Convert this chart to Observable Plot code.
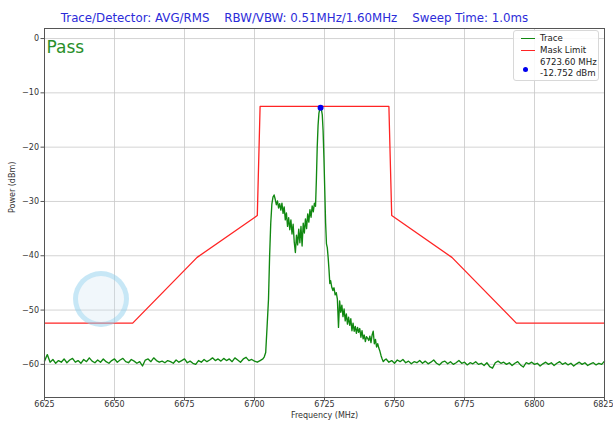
<!DOCTYPE html>
<html>
<head>
<meta charset="utf-8">
<script src="https://cdn.jsdelivr.net/npm/d3@7"></script>
<script src="https://cdn.jsdelivr.net/npm/@observablehq/plot@0.6"></script>
<style>
  html, body { margin: 0; padding: 0; background: #fff; }
  #wrap { position: relative; width: 613px; height: 421px; font-family: "DejaVu Sans", sans-serif; }
  #legend { position: absolute; left: 513px; top: 30px; width: 86px; height: 51px; box-sizing: border-box;
            border: 1px solid #d8d8d8; border-radius: 3px; background: rgba(255,255,255,0.85); font-size: 8.6px; color: #222; }
  #legend .row { position: absolute; left: 0; white-space: nowrap; }
  #legend .sw { position: absolute; left: 7px; width: 14px; height: 0; border-top: 1.5px solid; }
  #legend .lbl { position: absolute; left: 26px; }
  #wm { position: absolute; left: 73px; top: 271px; width: 46px; height: 46px; border-radius: 50%;
        border: 5px solid rgba(120,200,235,0.35); background: rgba(200,225,240,0.25); }
</style>
</head>
<body>
<div id="wrap"></div>
<script>
// ---- data ----
const titleText = "Trace/Detector: AVG/RMS    RBW/VBW: 0.51MHz/1.60MHz    Sweep Time: 1.0ms";
const statusText = "Pass";
const xTicks = [6625, 6650, 6675, 6700, 6725, 6750, 6775, 6800, 6825];
const yTicks = [0, -10, -20, -30, -40, -50, -60];
const xLabel = "Frequency (MHz)";
const yLabel = "Power (dBm)";

// mask limit
const maskFreq = [6625, 6656.5, 6679.5, 6701, 6702, 6748, 6749, 6770.5, 6793.5, 6825];
const maskPower = [-52.4, -52.4, -40.3, -32.6, -12.5, -12.5, -32.6, -40.3, -52.4, -52.4];

// trace: left noise floor, 6625..6703 MHz at 1 MHz steps
const floorLeftStart = 6625;
const floorLeft = [-59.4, -58.2, -59.6, -59.1, -59.8, -59.3, -59.6, -59.0, -59.7, -59.2,
  -58.9, -59.6, -59.3, -59.8, -59.1, -59.5, -58.8, -59.4, -59.7, -59.2,
  -59.6, -59.0, -59.5, -59.8, -59.3, -59.0, -59.6, -59.2, -58.9, -59.5,
  -59.7, -59.1, -59.4, -59.8, -59.5, -60.3, -59.2, -59.0, -59.5, -58.8,
  -59.3, -59.6, -59.4, -59.7, -59.3, -59.5, -59.8, -59.2, -59.6, -59.3,
  -59.0, -59.7, -59.4, -59.8, -60.0, -59.3, -59.6, -59.1, -59.5, -59.2,
  -58.8, -59.3, -59.0, -59.4, -58.9, -59.3, -59.0, -59.5, -58.8, -59.2,
  -59.6, -59.0, -58.7, -59.3, -59.1, -59.4, -59.6, -59.3, -59.0];

// signal region
const sigFreq = [6703.5, 6704.0, 6704.5, 6705.0, 6705.4, 6705.8, 6706.2, 6706.6, 6707.0, 6707.4,
  6707.8, 6708.2, 6708.6, 6709.0, 6709.4, 6709.8, 6710.2, 6710.6, 6711.0, 6711.4,
  6711.8, 6712.2, 6712.6, 6713.0, 6713.4, 6713.8, 6714.2, 6714.6, 6715.0, 6715.4,
  6715.8, 6716.2, 6716.6, 6717.0, 6717.4, 6717.8, 6718.2, 6718.6, 6719.0, 6719.4,
  6719.8, 6720.2, 6720.6, 6721.0, 6721.4, 6721.8, 6722.1, 6722.4, 6722.7, 6723.0,
  6723.3, 6723.6, 6723.9, 6724.2, 6724.5, 6724.8, 6725.1, 6725.4, 6725.7, 6726.0,
  6726.3, 6726.6, 6726.9, 6727.2, 6727.6, 6728.0, 6728.4, 6728.8, 6729.2, 6729.6,
  6730.0, 6730.4, 6730.8, 6731.2, 6731.6, 6732.0, 6732.4, 6732.8, 6733.2, 6733.6,
  6734.0, 6734.4, 6734.8, 6735.2, 6735.6, 6736.0, 6736.4, 6736.8, 6737.2, 6737.6,
  6738.0, 6738.4, 6738.8, 6739.2, 6739.6, 6740.0, 6740.4, 6740.8, 6741.2, 6741.6,
  6742.0, 6742.4, 6742.8, 6743.2, 6743.6, 6744.0, 6744.4, 6744.8, 6745.2, 6745.6,
  6746.0, 6746.5];
const sigPower = [-58.6, -57.8, -53.0, -48.0, -40.0, -34.0, -30.5, -29.2, -28.8, -29.6,
  -30.6, -29.9, -31.2, -30.4, -31.6, -30.3, -32.2, -31.0, -33.4, -32.1,
  -34.6, -33.0, -35.2, -33.4, -36.0, -34.2, -37.5, -39.4, -36.2, -38.0,
  -35.1, -37.6, -34.6, -38.2, -34.0, -35.8, -33.2, -35.0, -32.3, -33.8,
  -31.5, -32.9, -30.8, -31.9, -30.3, -30.9, -26.0, -20.0, -16.0, -13.8,
  -13.0, -12.752, -13.1, -14.0, -17.0, -22.0, -28.0, -34.0, -37.8, -38.5,
  -40.3, -42.5, -45.1, -44.6, -45.8, -46.4, -45.9, -47.2, -46.8, -48.0,
  -53.2, -48.3, -50.4, -49.1, -51.2, -49.8, -52.0, -50.7, -52.6, -51.3,
  -52.8, -51.6, -53.8, -52.4, -53.9, -53.0, -54.3, -53.2, -54.1, -53.4,
  -55.0, -53.8, -55.3, -54.6, -55.8, -54.9, -55.2, -55.6, -54.8, -56.0,
  -54.6, -53.9, -56.2, -55.4, -56.8, -56.2, -57.0, -57.6, -58.4, -59.0,
  -59.5, -59.2];

// right noise floor, 6747..6825 MHz at 1 MHz steps
const floorRightStart = 6747;
const floorRight = [-59.0, -59.6, -59.3, -59.8, -59.2, -59.5, -59.1, -59.7, -59.4, -59.9,
  -59.5, -59.7, -59.3, -59.8, -59.4, -59.9, -59.6, -59.2, -59.8, -60.1,
  -59.6, -59.4, -59.9, -59.5, -60.0, -59.7, -59.3, -59.8, -59.6, -60.1,
  -59.7, -59.9, -59.5, -60.0, -59.8, -60.2, -59.7, -60.4, -60.7, -59.7,
  -59.4, -59.8, -59.6, -60.0, -59.7, -60.2, -59.8, -59.5, -60.1, -60.5,
  -59.7, -59.9, -59.6, -60.0, -59.8, -60.3, -59.9, -59.6, -60.0, -59.7,
  -60.2, -59.8, -59.5, -60.0, -59.7, -60.1, -59.8, -60.3, -59.9, -59.6,
  -60.0, -59.7, -60.2, -59.9, -59.7, -60.1, -59.8, -60.0, -59.4];

const peakFreq = 6723.60;
const peakPower = -12.752;
const legendItems = ["Trace", "Mask Limit"];
const peakLabel = ["6723.60 MHz", "-12.752 dBm"];

// ---- build tables ----
const trace = [
  ...floorLeft.map((p, i) => ({f: floorLeftStart + i, p})),
  ...sigFreq.map((f, i) => ({f, p: sigPower[i]})),
  ...floorRight.map((p, i) => ({f: floorRightStart + i, p}))
];
const mask = maskFreq.map((f, i) => ({f, p: maskPower[i]}));
const minus = d => d < 0 ? "\u2212" + (-d) : String(d);
const xInner = xTicks.slice(0, -1);
const xLast = xTicks.slice(-1);

const W = 613, H = 421;
const chart = Plot.plot({
  width: W, height: H,
  marginLeft: 44, marginRight: 9, marginTop: 28, marginBottom: 24,
  style: {fontFamily: "DejaVu Sans, sans-serif", fontSize: "8px", color: "#333", background: "white"},
  x: {domain: [6625, 6825], label: null},
  y: {domain: [-66.1, 1.85], label: null},
  marks: [
    Plot.gridX(xTicks, {stroke: "#c8c8c8", strokeOpacity: 1, strokeWidth: 0.8}),
    Plot.gridY(yTicks, {stroke: "#c8c8c8", strokeOpacity: 1, strokeWidth: 0.8}),
    Plot.line(mask, {x: "f", y: "p", stroke: "#ff2424", strokeWidth: 1.3}),
    Plot.line(trace, {x: "f", y: "p", stroke: "#118811", strokeWidth: 1.35}),
    Plot.dot([{f: peakFreq, p: peakPower}], {x: "f", y: "p", r: 3, fill: "#0000ee", stroke: "none"}),
    Plot.frame({stroke: "#555", strokeWidth: 1}),
    Plot.axisX(xTicks, {tickSize: 3.5, text: null, stroke: "#555", label: null}),
    Plot.text(xInner, {x: d => d, frameAnchor: "bottom", dy: 9, text: d => String(d), fontSize: 8, fill: "#333"}),
    Plot.text(xLast, {x: d => d, frameAnchor: "bottom", dy: 9, dx: 9, textAnchor: "end", text: d => String(d), fontSize: 8, fill: "#333"}),
    Plot.axisY(yTicks, {tickSize: 3.5, tickPadding: 2, tickFormat: minus, fill: "#333", stroke: "#555", label: null}),
    Plot.text([xLabel], {frameAnchor: "bottom", dy: 20, text: d => d, fontSize: 8, fill: "#333"}),
    Plot.text([yLabel], {frameAnchor: "left", dx: -32, rotate: -90, text: d => d, fontSize: 8, fill: "#333"}),
    Plot.text([statusText], {frameAnchor: "top-left", dx: 2, dy: 12, text: d => d, fontSize: 17, fill: "#2a8f2a", textAnchor: "start"}),
    Plot.text([titleText], {frameAnchor: "top", dx: -30, dy: -15, text: d => d, fontSize: 11.8, fill: "#2b2bd9"})
  ]
});
chart.querySelectorAll("text").forEach(t => t.setAttribute("xml:space", "preserve"));
const wrap = document.getElementById("wrap");
wrap.appendChild(chart);

// watermark (decoration)
const wm = document.createElement("div");
wm.id = "wm";
wrap.appendChild(wm);

// legend
const lg = document.createElement("div");
lg.id = "legend";
const colors = ["#118811", "#ff2424"];
lg.innerHTML =
  legendItems.map((s, i) =>
    `<div class="row" style="top:${1 + i * 12}px;width:100%;height:12px">
       <div class="sw" style="top:5.5px;border-color:${colors[i]}"></div>
       <div class="lbl" style="top:0.5px">${s}</div></div>`).join("") +
  `<div class="row" style="top:25px;width:100%;height:26px">
     <div style="position:absolute;left:8.5px;top:10.5px;width:5px;height:5px;border-radius:50%;background:#0000ee"></div>
     <div class="lbl" style="top:1px;line-height:10.5px">${peakLabel[0]}<br>${peakLabel[1]}</div></div>`;
wrap.appendChild(lg);
</script>
</body>
</html>
